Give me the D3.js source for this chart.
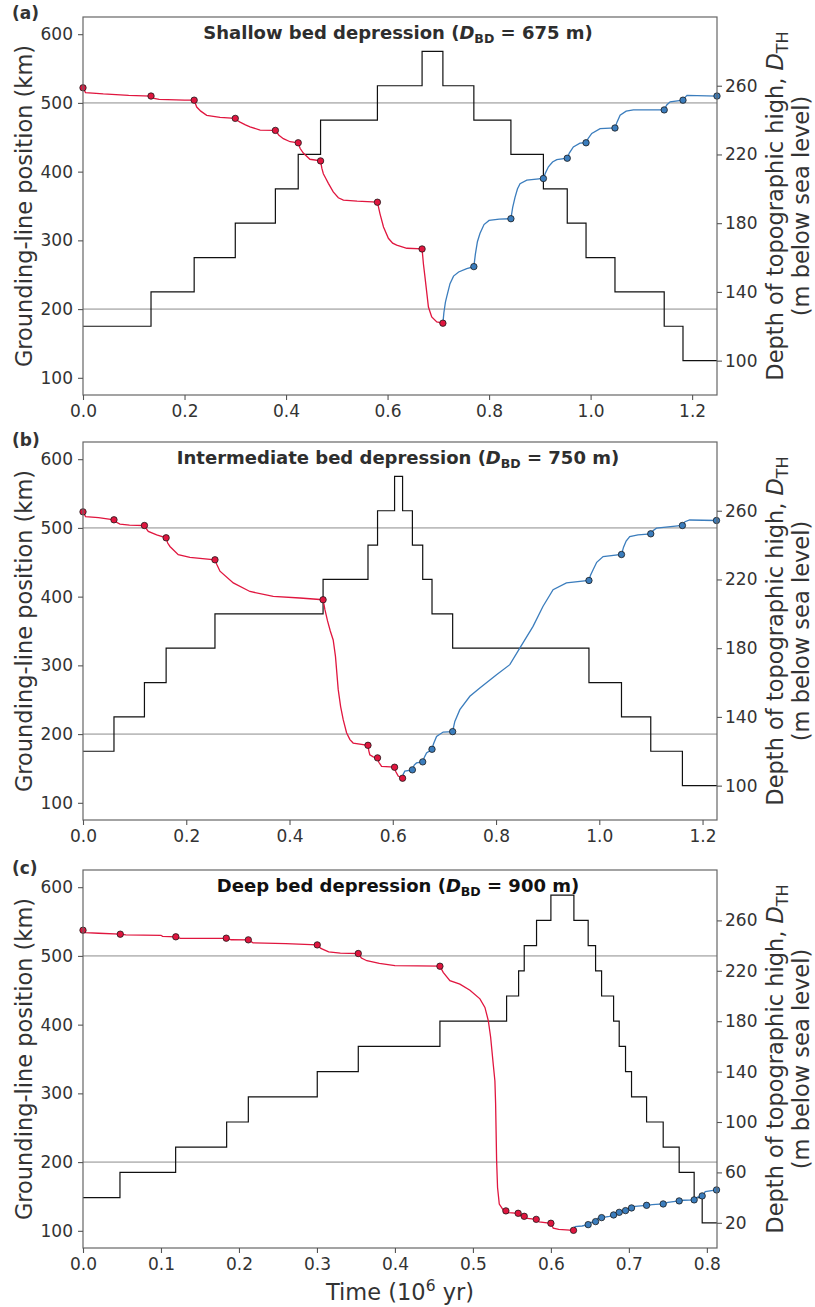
<!DOCTYPE html>
<html><head><meta charset="utf-8">
<script src="https://cdn.jsdelivr.net/npm/d3@7"></script>
<style>
body{margin:0;background:#fff}
svg{display:block}
text{font-family:"DejaVu Sans",sans-serif}
</style>
</head><body>
<svg id="chart" width="815" height="1307"></svg>
<script>
// ---------------- DATA ----------------
const panelLabels = ["(a)", "(b)", "(c)"];
const depressionNames = ["Shallow", "Intermediate", "Deep"];
const bedDepths = [675, 750, 900];
const refPositions = [500, 200];
const positionTicks = [100, 200, 300, 400, 500, 600];
const depthTicksAB = [100, 140, 180, 220, 260];
const depthTicksC = [20, 60, 100, 140, 180, 220, 260];
const timeTicksAB = [0, 0.2, 0.4, 0.6, 0.8, 1.0, 1.2];
const timeTicksC = [0, 0.1, 0.2, 0.3, 0.4, 0.5, 0.6, 0.7, 0.8];
const timeMax = [1.249, 1.228, 0.813];

// Panel (a) – depth of topographic high (step function)
const stepTimeA = [0, 0.134, 0.219, 0.300, 0.379, 0.424, 0.468, 0.580, 0.668, 0.709, 0.770, 0.843, 0.907, 0.954, 0.991, 1.048, 1.145, 1.182];
const stepDepthA = [120, 140, 160, 180, 200, 220, 240, 260, 280, 260, 240, 220, 200, 180, 160, 140, 120, 100];
// Panel (a) – grounding-line position, retreat (red) and advance (blue)
const retreatA = [
  [0,522],[0.005,515],[0.04,513],[0.09,511],[0.134,510],
  [0.14,506.5],[0.15,505],[0.2,504],[0.219,504],
  [0.221,500],[0.224,494],[0.232,488],[0.2437,482],[0.27,479],[0.300,477.5],
  [0.305,474],[0.3094,472],[0.32,468],[0.329,465],[0.349,460.5],[0.379,460],
  [0.386,453],[0.3947,448],[0.408,443.5],[0.424,442],
  [0.4276,434],[0.434,427],[0.447,418],[0.468,415.6],
  [0.4705,405],[0.4735,397],[0.4784,390],[0.4834,383],[0.493,370.5],[0.503,362],[0.513,358.5],[0.54,357],[0.580,355.5],
  [0.585,339],[0.592,319.5],[0.6016,303],[0.61,296],[0.618,293],[0.638,288.5],[0.668,287.5],
  [0.6706,266],[0.6735,248],[0.676,232],[0.6805,203],[0.687,188.5],[0.697,181.3],[0.709,179.5]
];
const retreatMarksA = [[0,522],[0.134,510],[0.219,504],[0.300,477.5],[0.379,460],[0.424,442],[0.468,415.6],[0.580,355.5],[0.668,287.5],[0.709,179.5]];
const advanceA = [
  [0.709,179.5],[0.711,195],[0.714,210],[0.7166,218],[0.723,237],[0.73,248],[0.74,254],[0.756,259],[0.770,261.8],
  [0.773,280],[0.777,298],[0.782,310],[0.79,323],[0.80,329],[0.82,331],[0.843,331.5],
  [0.8465,348],[0.8512,363],[0.856,375],[0.861,382.5],[0.8743,387.5],[0.907,390],
  [0.911,398],[0.9169,407],[0.925,414],[0.9334,417.5],[0.954,419.5],
  [0.958,427],[0.966,436],[0.979,441.5],[0.991,442],
  [0.995,448],[1.0023,455.5],[1.0187,462.5],[1.048,463.5],
  [1.052,472],[1.0581,482],[1.07,488],[1.0843,490],[1.145,489.8],
  [1.15,497],[1.1567,501.5],[1.182,504],
  [1.186,508],[1.19,511],[1.249,510]
];
const advanceMarksA = [[0.770,261.8],[0.843,331.5],[0.907,390],[0.954,419.5],[0.991,442],[1.048,463.5],[1.145,489.8],[1.182,504],[1.249,510]];

// Panel (b)
const stepTimeB = [0, 0.060, 0.119, 0.161, 0.2556, 0.465, 0.552, 0.5705, 0.6035, 0.619, 0.638, 0.658, 0.676, 0.716, 0.980, 1.043, 1.0997, 1.161];
const stepDepthB = [120, 140, 160, 180, 200, 220, 240, 260, 280, 260, 240, 220, 200, 180, 160, 140, 120, 100];
const retreatB = [
  [0,523.4],[0.005,516.5],[0.03,515],[0.06,511.8],
  [0.064,508.5],[0.0716,505.5],[0.09,504],[0.119,503.5],
  [0.1225,499],[0.1265,495],[0.1427,490],[0.161,485.6],
  [0.164,478],[0.1684,473],[0.1845,461],[0.2071,457],[0.2556,453.6],
  [0.259,447],[0.2653,437],[0.2911,420],[0.3233,407.5],[0.3685,400.3],[0.4201,398],[0.465,395.5],
  [0.4686,381],[0.4735,365],[0.479,350],[0.4846,337],[0.489,313],[0.4943,265],[0.499,240],[0.504,221],[0.5105,202],[0.517,192],[0.5233,187],[0.552,183.7],
  [0.5535,176],[0.5555,170],[0.5621,167],[0.5705,165.4],
  [0.573,159],[0.5783,153],[0.6035,151.8],
  [0.6055,146],[0.6105,139],[0.619,135.8]
];
const retreatMarksB = [[0,523.4],[0.06,511.8],[0.119,503.5],[0.161,485.6],[0.2556,453.6],[0.465,395.5],[0.552,183.7],[0.5705,165.4],[0.6035,151.8],[0.619,135.8]];
const advanceB = [
  [0.619,135.8],[0.6205,142],[0.6234,146],[0.638,148],
  [0.6415,155],[0.646,158],[0.658,159.6],
  [0.661,166],[0.6654,172.5],[0.676,177.9],
  [0.679,186],[0.6848,196.5],[0.6976,203],[0.716,203.6],
  [0.718,211],[0.7202,218.5],[0.7299,235.5],[0.7493,255],[0.7686,267],[0.801,286.5],[0.8267,301],[0.846,325],[0.8717,356.7],[0.8911,386],[0.9105,410],[0.9364,420],[0.980,423.5],
  [0.983,431],[0.988,439],[0.995,450],[1.0074,458.4],[1.043,461.3],
  [1.047,472],[1.052,481],[1.059,487.5],[1.075,490],[1.0997,491.4],
  [1.104,496],[1.1107,499.7],[1.161,503.5],
  [1.166,509],[1.175,511.5],[1.227,510.8]
];
const advanceMarksB = [[0.638,148],[0.658,159.6],[0.676,177.9],[0.716,203.6],[0.980,423.5],[1.043,461.3],[1.0997,491.4],[1.161,503.5],[1.227,510.8]];

// Panel (c)
const stepTimeC = [0, 0.0474, 0.1188, 0.1842, 0.212, 0.3004, 0.353, 0.4577, 0.5432, 0.5586, 0.5658, 0.5816, 0.600, 0.6295, 0.6478, 0.6573, 0.665, 0.6804, 0.6876, 0.6957, 0.7034, 0.7227, 0.744, 0.7645, 0.7837, 0.794];
const stepDepthC = [40, 60, 80, 100, 120, 140, 160, 180, 200, 220, 240, 260, 280, 260, 240, 220, 200, 180, 160, 140, 120, 100, 80, 60, 40, 20];
const retreatC = [
  [0,537.4],[0.003,534],[0.02,533],[0.0478,531.6],
  [0.055,530.5],[0.1,530],[0.102,528.5],[0.119,527.8],
  [0.125,525.5],[0.18,525.5],[0.1837,525.8],
  [0.19,523.5],[0.212,523.4],
  [0.218,519],[0.26,518],[0.3004,516],
  [0.305,511],[0.315,506],[0.33,504],[0.353,503.5],
  [0.357,497],[0.364,493],[0.38,489],[0.4,486],[0.4577,485],
  [0.4619,476],[0.4705,464],[0.4833,459],[0.4962,450],[0.509,437.5],[0.5154,425],[0.5197,406],[0.5227,382],[0.526,343],[0.5282,318],[0.5291,285],[0.5304,202],[0.5316,163],[0.5338,139],[0.5388,130.5],[0.5423,129],
  [0.546,126.5],[0.558,125.5],
  [0.56,122],[0.5658,121.1],
  [0.57,118],[0.5812,116.7],
  [0.585,113],[0.600,111],
  [0.603,104],[0.61,102],[0.629,100.7]
];
const retreatMarksC = [[0,537.4],[0.0478,531.6],[0.119,527.8],[0.1837,525.8],[0.212,523.4],[0.3004,516],[0.353,503.5],[0.4577,485],[0.5423,129],[0.558,125.5],[0.5658,121.1],[0.5812,116.7],[0.600,111],[0.629,100.7]];
const advanceC = [
  [0.629,100.7],[0.631,106],[0.64,107],[0.6478,109],
  [0.65,112],[0.6573,113.4],
  [0.66,118],[0.665,119.2],
  [0.675,121],[0.6804,123.1],
  [0.684,126],[0.6876,126.9],
  [0.69,128.5],[0.6957,129.4],
  [0.70,132.5],[0.7034,133.3],
  [0.708,135.5],[0.7227,137.1],
  [0.73,138],[0.744,139.1],
  [0.75,141.5],[0.7645,143.5],
  [0.77,144.5],[0.7837,145],
  [0.788,149],[0.794,150.8],
  [0.798,157],[0.8124,159.5]
];
const advanceMarksC = [[0.6478,109],[0.6573,113.4],[0.665,119.2],[0.6804,123.1],[0.6876,126.9],[0.6957,129.4],[0.7034,133.3],[0.7227,137.1],[0.744,139.1],[0.7645,143.5],[0.7837,145],[0.794,150.8],[0.8124,159.5]];

// ---------------- LAYOUT / STYLE ----------------
const plotLeft = 83, plotRight = 717;
const frames = [{top:17,bottom:395},{top:442,bottom:820},{top:870,bottom:1248}];
const RED = "#e0163f", BLUE = "#3b7dbd";

const panels = [
  {stepT:stepTimeA, stepD:stepDepthA, ret:retreatA, adv:advanceA, retM:retreatMarksA, advM:advanceMarksA, depthDomain:[80,300], depthTicks:depthTicksAB, timeTicks:timeTicksAB},
  {stepT:stepTimeB, stepD:stepDepthB, ret:retreatB, adv:advanceB, retM:retreatMarksB, advM:advanceMarksB, depthDomain:[80,300], depthTicks:depthTicksAB, timeTicks:timeTicksAB},
  {stepT:stepTimeC, stepD:stepDepthC, ret:retreatC, adv:advanceC, retM:retreatMarksC, advM:advanceMarksC, depthDomain:[0,300], depthTicks:depthTicksC, timeTicks:timeTicksC}
];

const svg = d3.select("#chart");

function styleAxis(s){
  s.attr("font-size", null).attr("font-family", null);
  s.select(".domain").remove();
  s.selectAll(".tick line").attr("stroke", "#555").attr("stroke-width", 1.1);
  s.selectAll(".tick text").attr("fill", "#333").style("font-size", "17px").style("font-family", "DejaVu Sans");
}

panels.forEach((p, i) => {
  const top = frames[i].top, bottom = frames[i].bottom;
  const tmax = timeMax[i];
  const g = svg.append("g");
  const x = d3.scaleLinear().domain([0, tmax]).range([plotLeft, plotRight]);
  const y = d3.scaleLinear().domain([75, 625]).range([bottom, top]);
  const y2 = d3.scaleLinear().domain(p.depthDomain).range([bottom, top]);

  const clipId = "clip" + i;
  svg.append("clipPath").attr("id", clipId).append("rect")
    .attr("x", plotLeft).attr("y", top).attr("width", plotRight - plotLeft).attr("height", bottom - top);
  const inner = g.append("g").attr("clip-path", `url(#${clipId})`);

  // reference lines
  inner.selectAll("line.ref").data(refPositions).join("line").attr("class", "ref")
    .attr("x1", plotLeft).attr("x2", plotRight)
    .attr("y1", d => y(d)).attr("y2", d => y(d))
    .attr("stroke", "#bdbdbd").attr("stroke-width", 1.6);

  // step line (depth of topographic high)
  const stepData = p.stepT.map((t, j) => [t, p.stepD[j]]);
  stepData.push([tmax, p.stepD[p.stepD.length - 1]]);
  inner.append("path").datum(stepData)
    .attr("d", d3.line().x(d => x(d[0])).y(d => y2(d[1])).curve(d3.curveStepAfter))
    .attr("fill", "none").attr("stroke", "#111").attr("stroke-width", 1.2);

  const line = d3.line().x(d => x(d[0])).y(d => y(d[1]));
  inner.append("path").datum(p.adv).attr("d", line)
    .attr("fill", "none").attr("stroke", BLUE).attr("stroke-width", 1.3);
  inner.append("path").datum(p.ret).attr("d", line)
    .attr("fill", "none").attr("stroke", RED).attr("stroke-width", 1.3);

  g.selectAll("circle.adv").data(p.advM).join("circle").attr("class", "adv")
    .attr("cx", d => x(d[0])).attr("cy", d => y(d[1])).attr("r", 3.2)
    .attr("fill", BLUE).attr("stroke", "#1a1a1a").attr("stroke-width", 0.8);
  g.selectAll("circle.ret").data(p.retM).join("circle").attr("class", "ret")
    .attr("cx", d => x(d[0])).attr("cy", d => y(d[1])).attr("r", 3.2)
    .attr("fill", RED).attr("stroke", "#1a1a1a").attr("stroke-width", 0.8);

  // frame
  g.append("rect").attr("x", plotLeft).attr("y", top)
    .attr("width", plotRight - plotLeft).attr("height", bottom - top)
    .attr("fill", "none").attr("stroke", "#666").attr("stroke-width", 1.2);

  // axes
  g.append("g").attr("transform", `translate(0,${bottom})`)
    .call(d3.axisBottom(x).tickValues(p.timeTicks).tickFormat(d3.format(".1f")).tickSize(5).tickPadding(5))
    .call(styleAxis);
  g.append("g").attr("transform", `translate(${plotLeft},0)`)
    .call(d3.axisLeft(y).tickValues(positionTicks).tickFormat(d3.format("d")).tickSize(5).tickPadding(5))
    .call(styleAxis);
  g.append("g").attr("transform", `translate(${plotRight},0)`)
    .call(d3.axisRight(y2).tickValues(p.depthTicks).tickFormat(d3.format("d")).tickSize(5).tickPadding(3))
    .call(styleAxis);

  const mid = (top + bottom) / 2;
  // left axis label
  g.append("text").attr("transform", `translate(32,${mid}) rotate(-90)`)
    .attr("text-anchor", "middle").attr("fill", "#333").style("font-size", "22.5px")
    .text("Grounding-line position (km)");
  // right axis label (two lines)
  const r1 = g.append("text").attr("transform", `translate(783,${mid}) rotate(-90)`)
    .attr("text-anchor", "middle").attr("fill", "#333").style("font-size", "22.5px");
  r1.append("tspan").text("Depth of topographic high, ");
  r1.append("tspan").attr("font-style", "italic").text("D");
  r1.append("tspan").style("font-size", "16px").attr("dy", 5).text("TH");
  g.append("text").attr("transform", `translate(809,${mid}) rotate(-90)`)
    .attr("text-anchor", "middle").attr("fill", "#333").style("font-size", "22.5px")
    .text("(m below sea level)");

  // title
  const tt = g.append("text").attr("x", 398).attr("y", top + 22)
    .attr("text-anchor", "middle").attr("font-weight", "bold")
    .attr("fill", i === 2 ? "#111" : "#2e2e2e").style("font-size", "18px");
  tt.append("tspan").text(depressionNames[i] + " bed depression (");
  tt.append("tspan").attr("font-style", "italic").text("D");
  tt.append("tspan").style("font-size", "12.5px").attr("dy", 4).text("BD");
  tt.append("tspan").attr("dy", -4).text(" = " + bedDepths[i] + " m)");

  // panel label
  g.append("text").attr("x", 12).attr("y", top + 2 + (i === 0 ? 0 : 2))
    .attr("font-weight", "bold").attr("fill", "#333").style("font-size", "17px")
    .text(panelLabels[i]);

  if (i === 2) {
    const xl = g.append("text").attr("x", 400).attr("y", 1300)
      .attr("text-anchor", "middle").attr("fill", "#333").style("font-size", "22.5px");
    xl.append("tspan").text("Time (10");
    xl.append("tspan").style("font-size", "15.5px").attr("dy", -9).text("6");
    xl.append("tspan").attr("dy", 9).text(" yr)");
  }
});
</script>
</body></html>
